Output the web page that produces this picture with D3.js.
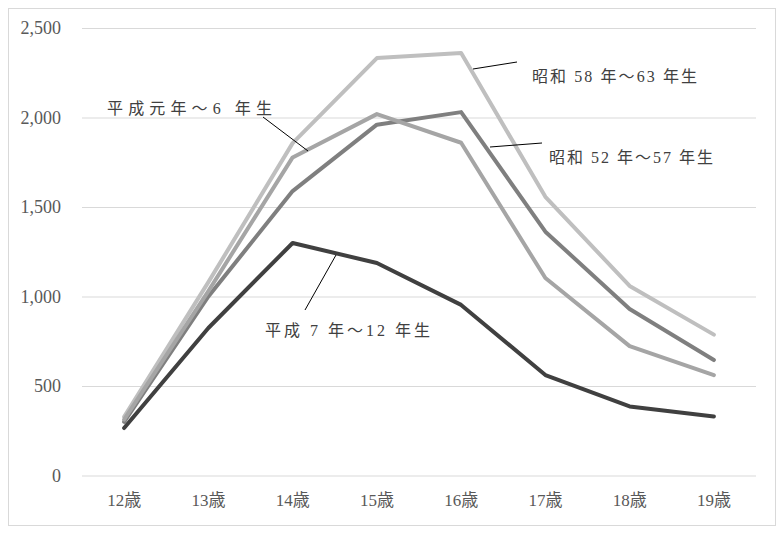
<!DOCTYPE html>
<html>
<head>
<meta charset="utf-8">
<script src="https://cdn.jsdelivr.net/npm/d3@7"></script>
<style>
  html, body { margin: 0; padding: 0; background: #fff; }
  svg { display: block; }
</style>
</head>
<body>
<svg id="chart" width="780" height="533"></svg>
<script>
// Age categories on the x axis
const ages = ["12歳", "13歳", "14歳", "15歳", "16歳", "17歳", "18歳", "19歳"];

// One value list per birth cohort
const showa58to63 = [328, 1080, 1857, 2332, 2360, 1557, 1059, 787];
const showa52to57 = [300, 1000, 1589, 1960, 2030, 1362, 930, 645];
const heisei1to6  = [312, 1030, 1777, 2019, 1859, 1103, 723, 561];
const heisei7to12 = [265, 824, 1299, 1187, 953, 561, 386, 330];

// Y axis ticks
const yTicks = [0, 500, 1000, 1500, 2000, 2500];

const series = [
  { name: "昭和 58 年～63 年生", values: showa58to63, color: "#bfbfbf" },
  { name: "昭和 52 年～57 年生", values: showa52to57, color: "#7f7f7f" },
  { name: "平成元年～6 年生",    values: heisei1to6,  color: "#a5a5a5" },
  { name: "平成 7 年～12 年生",  values: heisei7to12, color: "#404040" }
];

const svg = d3.select("#chart");
const W = 780, H = 533;
const m = { left: 82, right: 24, top: 28, bottom: 57.5 };

// outer frame
svg.append("rect")
  .attr("x", 8.5).attr("y", 8.5)
  .attr("width", 767).attr("height", 517)
  .attr("fill", "#fff").attr("stroke", "#d9d9d9").attr("stroke-width", 1);

const x = d3.scaleBand().domain(ages).range([m.left, W - m.right]);
const y = d3.scaleLinear().domain([0, 2500]).range([H - m.bottom, m.top]);

const serif = "'Liberation Serif', 'DejaVu Serif', 'Noto Sans CJK JP', serif";

// gridlines + y labels
const yAxis = d3.axisLeft(y).tickValues(yTicks).tickSize(-(W - m.right - m.left))
  .tickPadding(21).tickFormat(d3.format(","));
const gy = svg.append("g").attr("transform", `translate(${m.left},0)`).call(yAxis);
gy.select(".domain").remove();
gy.selectAll(".tick line").attr("stroke", "#d9d9d9").attr("stroke-width", 1);
gy.selectAll(".tick text").attr("fill", "#595959")
  .style("font-family", serif).style("font-size", "18px");

// x labels
const xAxis = d3.axisBottom(x).tickSize(0).tickPadding(18);
const gx = svg.append("g").attr("transform", `translate(0,${H - m.bottom})`).call(xAxis);
gx.select(".domain").remove();
gx.selectAll(".tick text").attr("fill", "#595959")
  .style("font-family", serif).style("font-size", "17px");

// lines
const line = d3.line()
  .x((d, i) => x(ages[i]) + x.bandwidth() / 2)
  .y(d => y(d));

svg.append("g").selectAll("path").data(series).join("path")
  .attr("d", d => line(d.values))
  .attr("fill", "none")
  .attr("stroke", d => d.color)
  .attr("stroke-width", 4)
  .attr("stroke-linejoin", "round")
  .attr("stroke-linecap", "round");

// series labels with leader lines
const notes = [
  { name: "平成元年～6 年生",   tx: 107, ty: 114, tw: 165, l: [263, 117, 308, 151] },
  { name: "昭和 58 年～63 年生", tx: 532, ty: 82,  tw: 165, l: [473, 69, 517, 62] },
  { name: "昭和 52 年～57 年生", tx: 549, ty: 163, tw: 164, l: [490, 147, 542, 143] },
  { name: "平成 7 年～12 年生",  tx: 265, ty: 336, tw: 165, l: [336, 255, 305, 310] }
];

const gn = svg.append("g");
gn.selectAll("line").data(notes).join("line")
  .attr("x1", d => d.l[0]).attr("y1", d => d.l[1])
  .attr("x2", d => d.l[2]).attr("y2", d => d.l[3])
  .attr("stroke", "#000").attr("stroke-width", 1);

gn.selectAll("text").data(notes).join("text")
  .attr("x", d => d.tx).attr("y", d => d.ty)
  .attr("textLength", d => d.tw)
  .attr("lengthAdjust", "spacing")
  .attr("fill", "#404040")
  .style("font-family", serif).style("font-size", "16px")
  .text(d => d.name);
</script>
</body>
</html>
